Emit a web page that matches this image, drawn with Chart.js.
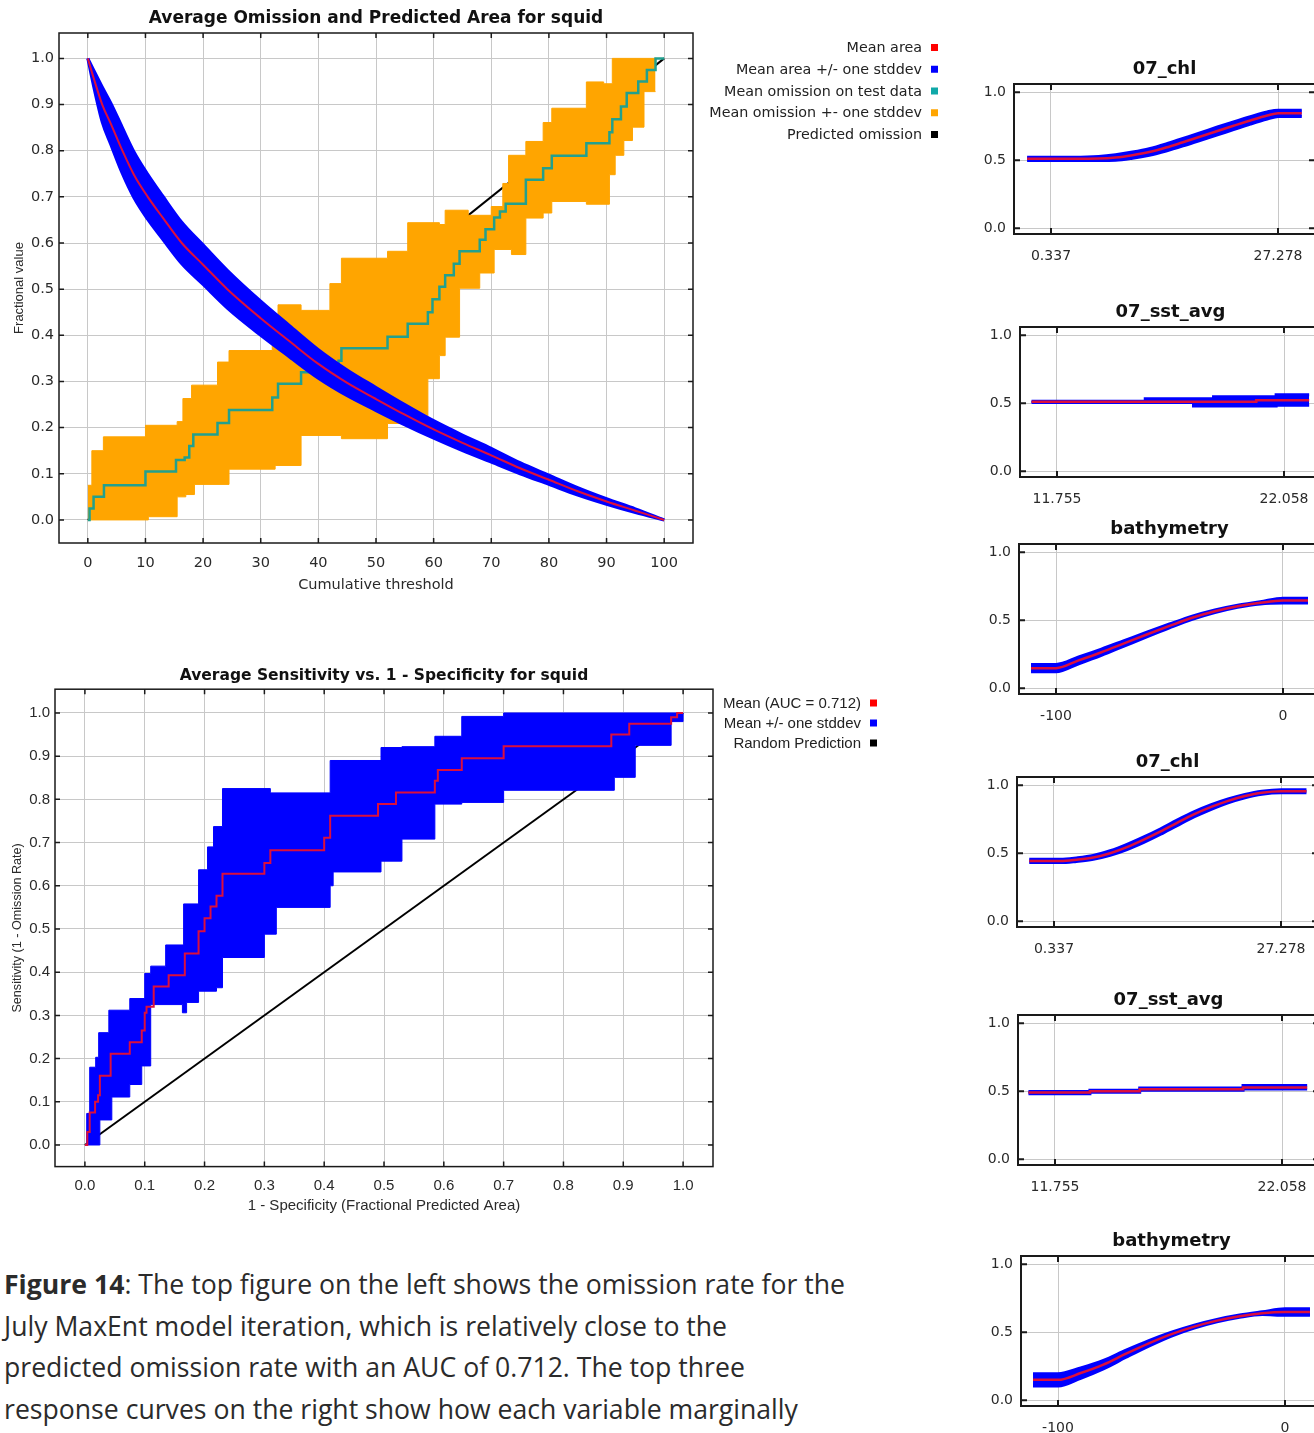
<!DOCTYPE html>
<html lang="en">
<head>
<meta charset="UTF-8"/>
<title>squid - July MaxEnt model</title>
<script src="https://cdn.jsdelivr.net/npm/chart.js@4.4.7/dist/chart.umd.min.js"></script>
<style>
*{box-sizing:border-box;margin:0;padding:0}
html,body{width:1314px;height:1433px;overflow:hidden;background:#fff}
canvas{position:absolute}
#caption{position:absolute;left:4px;top:1263px;font-family:'Open Sans',sans-serif;font-size:27px;line-height:41.7px;color:#2b2b2b;white-space:nowrap;transform-origin:0 0}
#caption b{font-weight:700}
</style>
</head>
<body>
<canvas id="omission" style="left:0;top:0" width="950" height="605"></canvas>
<canvas id="roc" style="left:0;top:660px" width="900" height="560"></canvas>
<div id="caption">
  <div><span id="capFirst"><b>Figure 14</b>: The top figure on the left shows the omission rate for the</span></div>
  <div>July MaxEnt model iteration, which is relatively close to the</div>
  <div>predicted omission rate with an AUC of 0.712. The top three</div>
  <div>response curves on the right show how each variable marginally</div>
</div>
<script>
// ---- omission and predicted area ----
const thresholdTicks = [0, 10, 20, 30, 40, 50, 60, 70, 80, 90, 100];
const fractionTicks  = [0, 0.1, 0.2, 0.3, 0.4, 0.5, 0.6, 0.7, 0.8, 0.9, 1.0];

const areaX     = [0, 1, 2.5, 4, 6, 8, 10.4, 13, 16.3, 20, 24.2, 30, 35, 40, 45, 50, 55, 60, 65, 70, 75, 80, 85, 90, 95, 100];
const areaMean  = [1.0, 0.958, 0.9, 0.858, 0.8, 0.748, 0.7, 0.655, 0.6, 0.553, 0.5, 0.437, 0.387, 0.338, 0.297, 0.262, 0.228, 0.196, 0.167, 0.14, 0.112, 0.087, 0.062, 0.04, 0.02, 0.0];
const areaUpper = [1.0, 0.975, 0.938, 0.903, 0.85, 0.798, 0.749, 0.702, 0.645, 0.596, 0.541, 0.474, 0.421, 0.369, 0.325, 0.287, 0.25, 0.215, 0.184, 0.155, 0.124, 0.097, 0.07, 0.046, 0.024, 0.0];
const areaLower = [1.0, 0.94, 0.862, 0.813, 0.75, 0.698, 0.651, 0.608, 0.555, 0.51, 0.459, 0.4, 0.353, 0.307, 0.269, 0.237, 0.206, 0.177, 0.15, 0.125, 0.1, 0.077, 0.054, 0.034, 0.016, 0.0];

const omitX    = [0, 0.3, 1, 2.8, 10, 15.3, 16.8, 17.6, 18.3, 22.5, 24.5, 32, 33, 37, 43.5, 44, 52, 55.5, 59, 59.8, 61, 62, 63.5, 64.5, 68, 69, 70.5, 71.5, 72.5, 76, 79, 80.5, 86.5, 90.5, 91, 92.5, 93.5, 95.5, 97, 98.5, 100];
const omitMean = [0, 0.025, 0.05, 0.075, 0.105, 0.13, 0.135, 0.16, 0.185, 0.21, 0.238, 0.265, 0.295, 0.32, 0.345, 0.372, 0.397, 0.425, 0.45, 0.478, 0.505, 0.53, 0.555, 0.582, 0.607, 0.63, 0.655, 0.668, 0.685, 0.737, 0.762, 0.789, 0.816, 0.84, 0.868, 0.896, 0.925, 0.95, 0.975, 1.0, 1.0];
const omitUpX  = [0, 0.7, 2.7, 10, 15.5, 16.5, 18, 22.5, 24.5, 32, 33, 37, 42, 44, 52, 55.5, 61, 62, 66, 70, 72, 73, 76, 79, 80.5, 86.5, 89.5, 91, 98.5];
const omitUpper= [0.075, 0.15, 0.18, 0.205, 0.213, 0.263, 0.292, 0.342, 0.367, 0.38, 0.466, 0.454, 0.512, 0.567, 0.582, 0.644, 0.64, 0.671, 0.66, 0.679, 0.729, 0.79, 0.82, 0.861, 0.892, 0.949, 0.945, 1.0, 1.0];
const omitLoX  = [0, 10.5, 15.5, 17, 18.5, 24.5, 32.5, 37, 44, 52, 59, 61, 62, 64.5, 68, 70.5, 73.5, 76, 79, 80.5, 86.5, 90.5, 91.5, 93, 94.5, 96.5, 98.5];
const omitLower= [0, 0.007, 0.05, 0.055, 0.077, 0.11, 0.118, 0.183, 0.176, 0.209, 0.306, 0.356, 0.396, 0.502, 0.535, 0.586, 0.575, 0.654, 0.665, 0.69, 0.684, 0.748, 0.79, 0.822, 0.851, 0.928, 0.928];
const predX = [0, 100];
const predY = [0, 1];

// ---- sensitivity vs 1 - specificity ----
const specTicks = [0, 0.1, 0.2, 0.3, 0.4, 0.5, 0.6, 0.7, 0.8, 0.9, 1.0];
const rocX     = [0, 0.004, 0.008, 0.017, 0.022, 0.025, 0.043, 0.075, 0.095, 0.1, 0.103, 0.115, 0.14, 0.167, 0.19, 0.2, 0.21, 0.22, 0.23, 0.3, 0.31, 0.4, 0.41, 0.49, 0.52, 0.585, 0.59, 0.63, 0.70, 0.88, 0.91, 0.98, 0.99, 1.0];
const rocMean  = [0, 0.03, 0.075, 0.1, 0.115, 0.16, 0.211, 0.238, 0.265, 0.306, 0.32, 0.367, 0.393, 0.443, 0.495, 0.525, 0.552, 0.577, 0.628, 0.653, 0.682, 0.711, 0.762, 0.789, 0.816, 0.843, 0.868, 0.895, 0.923, 0.95, 0.975, 0.99, 1.0, 1.0];
const rocUpX   = [0, 0.003, 0.008, 0.018, 0.023, 0.04, 0.075, 0.1, 0.11, 0.135, 0.165, 0.19, 0.205, 0.215, 0.23, 0.31, 0.41, 0.495, 0.53, 0.585, 0.63, 0.70, 1.0];
const rocUpper = [0, 0.073, 0.18, 0.203, 0.26, 0.312, 0.339, 0.397, 0.414, 0.463, 0.558, 0.637, 0.69, 0.737, 0.825, 0.815, 0.89, 0.92, 0.922, 0.946, 0.992, 1.0, 1.0];
const rocLoX   = [0, 0.025, 0.045, 0.075, 0.095, 0.11, 0.163, 0.17, 0.19, 0.22, 0.23, 0.3, 0.32, 0.41, 0.415, 0.495, 0.53, 0.585, 0.63, 0.70, 0.885, 0.92, 0.98, 1.0];
const rocLower = [0, 0.058, 0.111, 0.14, 0.183, 0.325, 0.306, 0.33, 0.356, 0.364, 0.434, 0.488, 0.55, 0.6, 0.632, 0.657, 0.708, 0.789, 0.793, 0.821, 0.851, 0.925, 0.98, 1.0];
const randX = [0, 1];
const randY = [0, 1];

// ---- response curves ----
const respTicks = [0, 0.5, 1.0];
const chlTicks = [0.337, 27.278];
const sstTicks = [11.755, 22.058];
const bathyTicks = [-100, 0];

const chl1X     = [-2.5, 0, 3, 6, 8, 10, 12, 14, 16, 18, 20, 22, 24, 26, 27.3, 30.1];
const chl1Mean  = [0.51, 0.51, 0.51, 0.512, 0.52, 0.537, 0.56, 0.593, 0.632, 0.672, 0.713, 0.753, 0.792, 0.828, 0.845, 0.845];
const chl1Upper = [0.522, 0.522, 0.522, 0.527, 0.54, 0.56, 0.585, 0.62, 0.66, 0.70, 0.742, 0.782, 0.82, 0.855, 0.868, 0.868];
const chl1Lower = [0.498, 0.498, 0.498, 0.498, 0.50, 0.515, 0.537, 0.568, 0.605, 0.645, 0.685, 0.725, 0.765, 0.802, 0.822, 0.822];

const sst1X     = [10.6, 20.4, 20.8, 23.2];
const sst1Mean  = [0.51, 0.51, 0.522, 0.522];
const sst1UpX   = [10.6, 15.76, 18.86, 21.7, 23.2];
const sst1Upper = [0.515, 0.533, 0.548, 0.562, 0.562];
const sst1LoX   = [10.6, 17.95, 21.7, 23.2];
const sst1Lower = [0.505, 0.48, 0.485, 0.485];

const bathy1X     = [-111, -100, -90, -80, -70, -60, -50, -40, -30, -20, -10, 0, 11];
const bathy1Mean  = [0.148, 0.148, 0.205, 0.265, 0.33, 0.395, 0.458, 0.518, 0.566, 0.603, 0.628, 0.644, 0.644];
const bathy1Upper = [0.175, 0.175, 0.23, 0.288, 0.35, 0.412, 0.472, 0.53, 0.576, 0.611, 0.636, 0.662, 0.662];
const bathy1Lower = [0.121, 0.121, 0.18, 0.242, 0.31, 0.378, 0.444, 0.506, 0.556, 0.595, 0.62, 0.626, 0.626];

const chl2X     = [-2.6, 1.1, 3, 5, 7, 9, 11, 13, 15, 17, 19, 21, 23, 25, 27.3, 30.3];
const chl2Mean  = [0.443, 0.443, 0.452, 0.468, 0.50, 0.545, 0.60, 0.66, 0.725, 0.787, 0.84, 0.885, 0.92, 0.945, 0.956, 0.956];
const chl2Upper = [0.455, 0.455, 0.465, 0.483, 0.518, 0.565, 0.62, 0.68, 0.745, 0.805, 0.856, 0.898, 0.932, 0.956, 0.967, 0.967];
const chl2Lower = [0.431, 0.431, 0.44, 0.455, 0.484, 0.527, 0.58, 0.64, 0.705, 0.768, 0.823, 0.871, 0.908, 0.934, 0.945, 0.945];

const sst2X     = [10.55, 13.34, 15.6, 20.29, 23.2];
const sst2Mean  = [0.49, 0.50, 0.515, 0.527, 0.527];
const sst2Upper = [0.498, 0.508, 0.523, 0.542, 0.542];
const sst2Lower = [0.482, 0.492, 0.507, 0.517, 0.517];

const bathy2X     = [-111, -100, -90, -80, -70, -60, -50, -40, -30, -20, -10, 0, 11];
const bathy2Mean  = [0.15, 0.15, 0.20, 0.262, 0.342, 0.418, 0.486, 0.541, 0.585, 0.618, 0.64, 0.648, 0.648];
const bathy2Upper = [0.195, 0.195, 0.238, 0.293, 0.368, 0.438, 0.5, 0.552, 0.594, 0.626, 0.65, 0.672, 0.672];
const bathy2Lower = [0.105, 0.105, 0.162, 0.231, 0.316, 0.398, 0.472, 0.53, 0.576, 0.61, 0.63, 0.624, 0.624];

const pts = (xs, ys) => xs.map((x, i) => ({ x, y: ys[i] }));

const RED = '#dc0f3c', BLUE = '#0000ff', ORANGE = '#ffa500', TEAL = '#22a08e';

// frame box, inner tick marks and the right-aligned legend
const framePlugin = {
  id: 'frame',
  afterDraw(chart, args, o) {
    const { ctx, chartArea: a } = chart;
    ctx.save();
    ctx.strokeStyle = '#1a1a1a';
    ctx.lineWidth = o.width;
    ctx.strokeRect(a.left, a.top, a.right - a.left, a.bottom - a.top);
    if (o.innerTicks) {
      const xs = chart.scales.x, ys = chart.scales.y, t = o.innerTicks;
      ctx.beginPath();
      xs.ticks.forEach((tk) => {
        const p = xs.getPixelForValue(tk.value);
        ctx.moveTo(p, a.bottom); ctx.lineTo(p, a.bottom - t);
        ctx.moveTo(p, a.top); ctx.lineTo(p, a.top + t);
      });
      ys.ticks.forEach((tk) => {
        const p = ys.getPixelForValue(tk.value);
        ctx.moveTo(a.left, p); ctx.lineTo(a.left + t, p);
        ctx.moveTo(a.right, p); ctx.lineTo(a.right - t, p);
      });
      ctx.stroke();
    }
    if (o.legend) {
      const L = o.legend;
      ctx.font = L.font;
      ctx.textAlign = 'right';
      ctx.textBaseline = 'middle';
      let y = L.y;
      chart.data.datasets.forEach((ds) => {
        if (!ds.label) return;
        ctx.fillStyle = '#222';
        ctx.fillText(ds.label, L.x, y);
        ctx.fillStyle = ds.legendColor;
        ctx.fillRect(L.x + L.gap, y - L.box / 2 - 1, L.box, L.box);
        y += L.step;
      });
    }
    ctx.restore();
  }
};

const fixedTicks = (values) => (s) => { s.ticks = values.map((v) => ({ value: v })); };
const grid = { color: '#c8c8c8', lineWidth: 1, drawTicks: false };

Chart.defaults.color = '#2a2a2a';
Chart.defaults.animation = false;
Chart.defaults.elements.point.radius = 0;

// top left chart
new Chart(document.getElementById('omission'), {
  type: 'line',
  data: {
    datasets: [
      { label: 'Mean area', legendColor: '#ff0000', data: pts(areaX, areaMean), borderColor: RED, borderWidth: 2, cubicInterpolationMode: 'monotone', order: 0 },
      { label: 'Mean area +/- one stddev', legendColor: BLUE, data: pts(areaX, areaUpper), borderColor: BLUE, borderWidth: 3, backgroundColor: BLUE, fill: { target: 2 }, cubicInterpolationMode: 'monotone', order: 1 },
      { data: pts(areaX, areaLower), borderColor: BLUE, borderWidth: 3, cubicInterpolationMode: 'monotone', order: 1 },
      { label: 'Mean omission on test data', legendColor: '#10a8a8', data: pts(omitX, omitMean), borderColor: TEAL, borderWidth: 2.5, stepped: true, order: 2 },
      { label: 'Mean omission +- one stddev', legendColor: ORANGE, data: pts(omitUpX, omitUpper), borderColor: ORANGE, borderWidth: 1, backgroundColor: ORANGE, fill: { target: 5 }, stepped: true, order: 3 },
      { data: pts(omitLoX, omitLower), borderColor: ORANGE, borderWidth: 1, stepped: true, order: 3 },
      { label: 'Predicted omission', legendColor: '#000', data: pts(predX, predY), borderColor: '#000', borderWidth: 2, order: 4 }
    ]
  },
  options: {
    responsive: false,
    layout: { padding: { left: 0, right: 257, top: 0, bottom: 0 } },
    plugins: {
      legend: { display: false },
      tooltip: { enabled: false },
      title: { display: true, fullSize: false, text: 'Average Omission and Predicted Area for squid', color: '#111',
        font: { family: 'DejaVu Sans', size: 17, weight: 'bold' }, padding: { top: 8.3, bottom: 4.3 } },
      frame: { width: 1.5, innerTicks: 5, legend: { x: 922, y: 48.5, step: 21.75, gap: 9, box: 7, font: '14.3px "DejaVu Sans"' } }
    },
    scales: {
      x: {
        type: 'linear', min: -5, max: 105, grid, border: { display: false },
        afterBuildTicks: fixedTicks(thresholdTicks),
        afterFit: (s) => { s.height = 62; },
        ticks: { autoSkip: false, maxRotation: 0, padding: 11.3, font: { family: 'DejaVu Sans', size: 14.5 }, callback: (v) => String(v) },
        title: { display: true, text: 'Cumulative threshold', font: { family: 'DejaVu Sans', size: 14.5 }, padding: { top: 0, bottom: 11.3 } }
      },
      y: {
        min: -0.05, max: 1.055, grid, border: { display: false },
        afterBuildTicks: fixedTicks(fractionTicks),
        afterFit: (s) => { s.width = 59; },
        ticks: { autoSkip: false, padding: 5, font: { family: 'DejaVu Sans', size: 14.5 }, callback: (v) => v.toFixed(1) },
        title: { display: true, text: 'Fractional value', font: { family: 'Liberation Sans', size: 13 }, padding: { top: 11.2, bottom: 0 } }
      }
    }
  },
  plugins: [framePlugin]
});

// bottom left chart
new Chart(document.getElementById('roc'), {
  type: 'line',
  data: {
    datasets: [
      { label: 'Mean (AUC = 0.712)', legendColor: '#ff0000', data: pts(rocX, rocMean), borderColor: RED, borderWidth: 2, stepped: true, order: 0 },
      { label: 'Mean +/- one stddev', legendColor: BLUE, data: pts(rocUpX, rocUpper), borderColor: BLUE, borderWidth: 1, backgroundColor: BLUE, fill: { target: 2 }, stepped: true, order: 1 },
      { data: pts(rocLoX, rocLower), borderColor: BLUE, borderWidth: 1, stepped: true, order: 1 },
      { label: 'Random Prediction', legendColor: '#000', data: pts(randX, randY), borderColor: '#000', borderWidth: 2, order: 2 }
    ]
  },
  options: {
    responsive: false,
    layout: { padding: { left: 0, right: 187, top: 0, bottom: 0 } },
    plugins: {
      legend: { display: false },
      tooltip: { enabled: false },
      title: { display: true, fullSize: false, text: 'Average Sensitivity vs. 1 - Specificity for squid', color: '#111',
        font: { family: 'DejaVu Sans', size: 15.5, weight: 'bold' }, padding: { top: 7.0, bottom: 3.6 } },
      frame: { width: 1.5, innerTicks: 5, legend: { x: 861, y: 44, step: 20, gap: 9, box: 7, font: '15px "Liberation Sans"' } }
    },
    scales: {
      x: {
        type: 'linear', min: -0.05, max: 1.05, grid, border: { display: false },
        afterBuildTicks: fixedTicks(specTicks),
        afterFit: (s) => { s.height = 53.4; },
        ticks: { autoSkip: false, maxRotation: 0, padding: 10.5, font: { family: 'Liberation Sans', size: 15 }, callback: (v) => v.toFixed(1) },
        title: { display: true, text: '1 - Specificity (Fractional Predicted Area)', font: { family: 'Liberation Sans', size: 15 }, padding: { top: 0, bottom: 5 } }
      },
      y: {
        min: -0.05, max: 1.055, grid, border: { display: false },
        afterBuildTicks: fixedTicks(fractionTicks),
        afterFit: (s) => { s.width = 55; },
        ticks: { autoSkip: false, padding: 5, font: { family: 'Liberation Sans', size: 15 }, callback: (v) => v.toFixed(1) },
        title: { display: true, text: 'Sensitivity (1 - Omission Rate)', font: { family: 'Liberation Sans', size: 12.6 }, padding: { top: 10.4, bottom: 0 } }
      }
    }
  },
  plugins: [framePlugin]
});

// right column: response curves
const responses = [
  { title: '07_chl', L: 1014, T: 84, min: -4.054, max: 31.669, ticks: chlTicks, labels: ['0.337', '27.278'],
    mean: pts(chl1X, chl1Mean), upper: pts(chl1X, chl1Upper), lower: pts(chl1X, chl1Lower), stepped: false },
  { title: '07_sst_avg', L: 1020, T: 327, min: 10.076, max: 23.737, ticks: sstTicks, labels: ['11.755', '22.058'],
    mean: pts(sst1X, sst1Mean), upper: pts(sst1UpX, sst1Upper), lower: pts(sst1LoX, sst1Lower), stepped: true },
  { title: 'bathymetry', L: 1019, T: 544, min: -116.3, max: 16.3, ticks: bathyTicks, labels: ['-100', '0'],
    mean: pts(bathy1X, bathy1Mean), upper: pts(bathy1X, bathy1Upper), lower: pts(bathy1X, bathy1Lower), stepped: false },
  { title: '07_chl', L: 1017, T: 777, min: -4.054, max: 31.669, ticks: chlTicks, labels: ['0.337', '27.278'],
    mean: pts(chl2X, chl2Mean), upper: pts(chl2X, chl2Upper), lower: pts(chl2X, chl2Lower), stepped: false },
  { title: '07_sst_avg', L: 1018, T: 1015, min: 10.076, max: 23.737, ticks: sstTicks, labels: ['11.755', '22.058'],
    mean: pts(sst2X, sst2Mean), upper: pts(sst2X, sst2Upper), lower: pts(sst2X, sst2Lower), stepped: true },
  { title: 'bathymetry', L: 1021, T: 1256, min: -116.3, max: 16.3, ticks: bathyTicks, labels: ['-100', '0'],
    mean: pts(bathy2X, bathy2Mean), upper: pts(bathy2X, bathy2Upper), lower: pts(bathy2X, bathy2Lower), stepped: false }
];

responses.forEach((r) => {
  const cv = document.createElement('canvas');
  cv.width = 380; cv.height = 225;
  cv.style.left = '960px';
  cv.style.top = (r.T - 40) + 'px';
  document.body.appendChild(cv);
  const axisW = r.L - 960;
  const curve = r.stepped ? { stepped: true } : { cubicInterpolationMode: 'monotone' };
  new Chart(cv, {
    type: 'line',
    data: {
      datasets: [
        { data: r.mean, borderColor: RED, borderWidth: 2.5, order: 0, ...curve },
        { data: r.upper, borderColor: BLUE, borderWidth: 3, backgroundColor: BLUE, fill: { target: 2 }, order: 1, ...curve },
        { data: r.lower, borderColor: BLUE, borderWidth: 3, order: 1, ...curve }
      ]
    },
    options: {
      responsive: false,
      layout: { padding: { left: 0, right: 380 - (axisW + 301), top: 0, bottom: 0 } },
      plugins: {
        legend: { display: false },
        tooltip: { enabled: false },
        title: { display: true, fullSize: false, text: r.title, color: '#111',
          font: { family: 'DejaVu Sans', size: 18, weight: 'bold' }, padding: { top: 14.7, bottom: 3.7 } },
        frame: { width: 2, innerTicks: 6 }
      },
      scales: {
        x: {
          type: 'linear', min: r.min, max: r.max, grid, border: { display: false },
          afterBuildTicks: fixedTicks(r.ticks),
          afterFit: (s) => { s.height = 35; },
          ticks: { autoSkip: false, maxRotation: 0, padding: 14, font: { family: 'DejaVu Sans', size: 14 }, callback: (v, i) => r.labels[i] }
        },
        y: {
          min: -0.042, max: 1.06, grid, border: { display: false },
          afterBuildTicks: fixedTicks(respTicks),
          afterFit: (s) => { s.width = axisW; },
          ticks: { autoSkip: false, padding: 8, font: { family: 'DejaVu Sans', size: 14 }, callback: (v) => v.toFixed(1) }
        }
      }
    },
    plugins: [framePlugin]
  });
});

// caption text squeezed to the reference line width
const cap = document.getElementById('caption');
function fitCaption() {
  cap.style.transform = 'none';
  const w = document.getElementById('capFirst').getBoundingClientRect().width;
  cap.style.transform = 'scaleX(' + (841 / w).toFixed(4) + ')';
}
fitCaption();
document.fonts.ready.then(fitCaption);
</script>
</body>
</html>
